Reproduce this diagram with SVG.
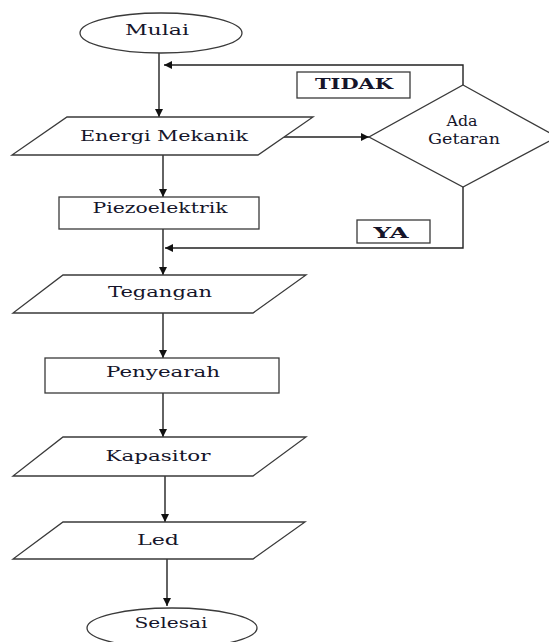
<svg xmlns="http://www.w3.org/2000/svg" width="549" height="642" viewBox="0 0 549 642">
<style>
.s{fill:#fff;stroke:#3a3a3a;stroke-width:1.3}
.c{fill:none;stroke:#222;stroke-width:1.4}
.t{font-family:"DejaVu Serif","Liberation Serif",serif;font-size:14px;fill:#15152a;text-anchor:middle}
.b{font-weight:bold}
</style>
<defs>
<marker id="ah" viewBox="0 0 10 10" refX="10" refY="5" markerWidth="9" markerHeight="8" markerUnits="userSpaceOnUse" orient="auto">
<path d="M0,0 L10,5 L0,10 z" fill="#111"/>
</marker>
</defs>
<rect width="549" height="642" fill="#fff"/>
<g id="connectors">
<path class="c" d="M159,53 V117" marker-end="url(#ah)"/>
<path class="c" d="M463,85 V65 H164" marker-end="url(#ah)"/>
<path class="c" d="M284,137 H369" marker-end="url(#ah)"/>
<path class="c" d="M163,155 V197" marker-end="url(#ah)"/>
<path class="c" d="M163,229 V275" marker-end="url(#ah)"/>
<path class="c" d="M463,187 V248 H165" marker-end="url(#ah)"/>
<path class="c" d="M163,313 V358" marker-end="url(#ah)"/>
<path class="c" d="M163,393 V437" marker-end="url(#ah)"/>
<path class="c" d="M165,476 V522" marker-end="url(#ah)"/>
<path class="c" d="M167,559 V606" marker-end="url(#ah)"/>
</g>
<g id="mulai">
<ellipse class="s" cx="161" cy="33" rx="81" ry="20"/>
<text class="t" x="157" y="35" textLength="64" lengthAdjust="spacingAndGlyphs">Mulai</text>
</g>
<g id="energi">
<polygon class="s" points="67,117 313,117 258,155 12,155"/>
<text class="t" x="164" y="141" textLength="168" lengthAdjust="spacingAndGlyphs">Energi Mekanik</text>
</g>
<g id="getaran">
<polygon class="s" points="463,85 557,137 463,187 369,137"/>
<text class="t" x="462" y="126" textLength="31" lengthAdjust="spacingAndGlyphs">Ada</text>
<text class="t" x="464" y="144" textLength="72" lengthAdjust="spacingAndGlyphs">Getaran</text>
</g>
<g id="tidak">
<rect class="s" x="297" y="72" width="113" height="26"/>
<text class="t b" x="354" y="89" textLength="78" lengthAdjust="spacingAndGlyphs">TIDAK</text>
</g>
<g id="ya">
<rect class="s" x="357" y="220" width="73" height="23"/>
<text class="t b" x="391" y="238" textLength="35" lengthAdjust="spacingAndGlyphs">YA</text>
</g>
<g id="piezo">
<rect class="s" x="59" y="197" width="200" height="32"/>
<text class="t" x="160" y="213" textLength="135" lengthAdjust="spacingAndGlyphs">Piezoelektrik</text>
</g>
<g id="tegangan">
<polygon class="s" points="63,275 306,275 253,313 13,313"/>
<text class="t" x="160" y="297" textLength="104" lengthAdjust="spacingAndGlyphs">Tegangan</text>
</g>
<g id="penyearah">
<rect class="s" x="45" y="358" width="234" height="35"/>
<text class="t" x="163" y="377" textLength="114" lengthAdjust="spacingAndGlyphs">Penyearah</text>
</g>
<g id="kapasitor">
<polygon class="s" points="63,437 306,437 253,476 13,476"/>
<text class="t" x="158" y="461" textLength="105" lengthAdjust="spacingAndGlyphs">Kapasitor</text>
</g>
<g id="led">
<polygon class="s" points="63,522 305,522 253,559 13,559"/>
<text class="t" x="158" y="545" textLength="42" lengthAdjust="spacingAndGlyphs">Led</text>
</g>
<g id="selesai">
<ellipse class="s" cx="172" cy="628" rx="85" ry="20"/>
<text class="t" x="171" y="628" textLength="73" lengthAdjust="spacingAndGlyphs">Selesai</text>
</g>
</svg>
